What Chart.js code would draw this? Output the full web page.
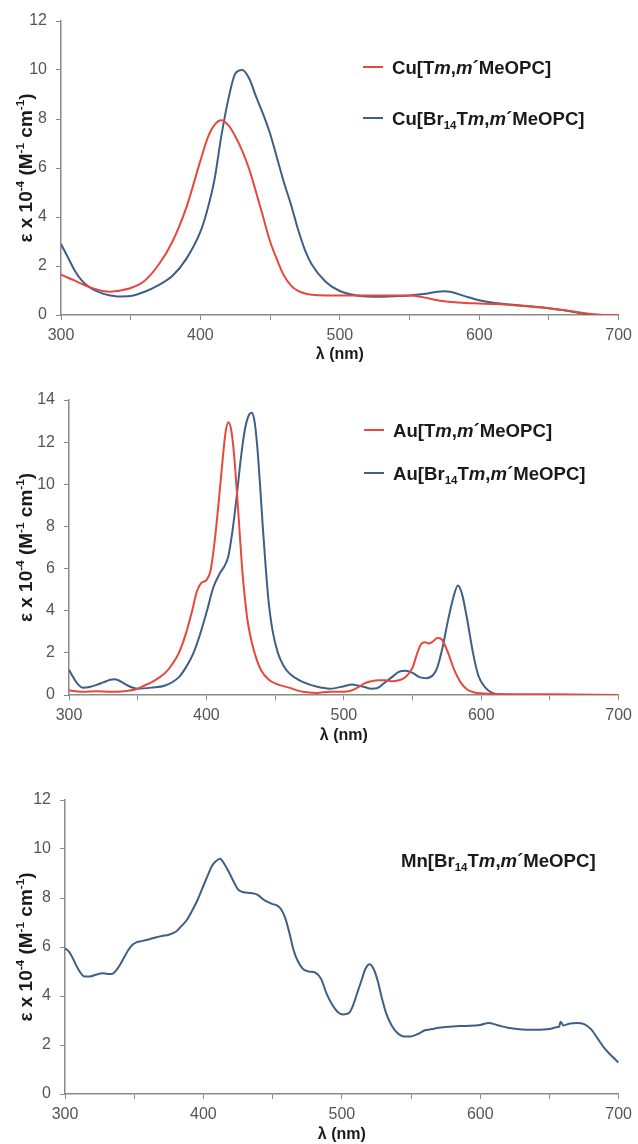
<!DOCTYPE html>
<html>
<head>
<meta charset="utf-8">
<script src="https://cdn.jsdelivr.net/npm/chart.js@4"></script>
<style>
  html, body { margin: 0; padding: 0; background: #fff; }
  #page { position: relative; width: 638px; height: 1144px; }
  .box { position: absolute; left: 0; width: 638px; }
</style>
</head>
<body>
<div id="page">
  <div class="box" style="top:0;height:364px"><canvas id="cuChart"></canvas></div>
  <div class="box" style="top:362px;height:383px"><canvas id="auChart"></canvas></div>
  <div class="box" style="top:745px;height:399px"><canvas id="mnChart"></canvas></div>
</div>
<script>
// ---- data (epsilon x 10^-4) ----
const cuNm = [300,305,310,315,320,330,335,340,350,360,370,380,390,400,405,410,415,420,425,430,435,440,445,450,455,460,465,470,475,480,490,500,510,520,530,540,550,560,570,575,580,590,600,610,620,640,650,660,670,680,690,700];
const cuRed = [1.65,1.52,1.4,1.27,1.15,0.98,0.95,0.98,1.1,1.4,2.05,3.0,4.4,6.3,7.2,7.75,7.95,7.75,7.3,6.7,5.95,5.0,4.0,3.0,2.25,1.6,1.2,0.98,0.88,0.83,0.8,0.8,0.8,0.8,0.8,0.8,0.8,0.72,0.6,0.56,0.53,0.49,0.47,0.45,0.42,0.33,0.28,0.2,0.12,0.04,0,0];
const cuBlue = [2.9,2.35,1.8,1.4,1.15,0.87,0.8,0.76,0.78,0.95,1.22,1.6,2.3,3.4,4.3,5.5,7.3,8.8,9.85,10.0,9.65,8.9,8.2,7.4,6.4,5.4,4.5,3.5,2.65,2.05,1.35,0.98,0.82,0.76,0.75,0.77,0.8,0.86,0.95,0.97,0.94,0.76,0.6,0.5,0.44,0.34,0.28,0.2,0.1,0.02,0,0];

const auRedNm = [300,305,310,320,330,340,350,355,360,365,370,375,380,385,390,393,396,400,403,406,409,412,414,416,418,420,422,424,426,428,430,433,436,440,445,450,460,470,480,490,500,505,510,515,520,525,530,535,540,545,550,553,556,559,562,565,568,571,574,577,580,585,590,595,600,610,620,650,700];
const auRed = [0.22,0.18,0.15,0.18,0.15,0.18,0.3,0.45,0.6,0.8,1.05,1.45,2.0,2.9,4.1,4.9,5.3,5.45,5.9,7.3,9.2,11.3,12.5,12.95,12.6,11.5,9.8,7.9,6.0,4.6,3.5,2.5,1.8,1.15,0.75,0.55,0.35,0.15,0.1,0.15,0.15,0.2,0.35,0.55,0.65,0.7,0.7,0.65,0.7,0.85,1.3,1.9,2.4,2.5,2.45,2.55,2.7,2.65,2.3,1.8,1.25,0.6,0.25,0.12,0.08,0.05,0.04,0.03,0];
const auBlueNm = [300,303,306,310,315,320,325,330,333,336,340,345,350,360,370,380,385,390,395,400,405,410,413,416,419,422,425,428,431,433,435,437,439,441,443,445,448,452,456,460,465,470,480,490,500,506,510,515,520,524,530,535,540,545,550,555,560,565,568,572,576,580,583,586,590,594,598,603,608,615,630,700];
const auBlue = [1.2,0.85,0.55,0.35,0.38,0.48,0.6,0.72,0.75,0.7,0.55,0.38,0.3,0.35,0.45,0.85,1.3,1.9,2.8,3.9,5.1,5.8,6.1,6.6,7.8,9.4,11.2,12.6,13.3,13.4,13.0,11.8,10.0,8.0,6.2,4.6,3.1,2.0,1.4,1.05,0.8,0.62,0.4,0.3,0.42,0.5,0.45,0.38,0.3,0.32,0.6,0.85,1.1,1.15,1.05,0.85,0.8,0.95,1.3,2.3,3.6,4.7,5.2,4.8,3.5,2.0,0.9,0.35,0.1,0.02,0,0];

const mnNm = [300,303,306,309,314,318,323,327,331,334,337,340,343,346,349,352,356,361,366,370,375,380,384,388,392,396,400,403,406,409,412,415,418,422,425,428,431,434,437,440,443,446,450,453,456,459,462,465,468,472,476,481,485,489,493,497,501,505,508,511,514,517,520,523,526,529,532,536,540,545,550,555,560,565,570,580,590,600,606,612,620,630,640,650,655,657,658,660,665,670,675,680,685,690,695,700];
const mnBlue = [5.95,5.8,5.5,5.15,4.8,4.8,4.88,4.93,4.9,4.9,5.05,5.3,5.6,5.9,6.1,6.2,6.25,6.32,6.4,6.45,6.5,6.62,6.85,7.1,7.5,7.95,8.5,8.9,9.3,9.5,9.6,9.4,9.1,8.65,8.35,8.25,8.22,8.2,8.18,8.1,7.95,7.85,7.75,7.7,7.55,7.2,6.6,5.9,5.45,5.1,5.0,4.95,4.7,4.1,3.65,3.35,3.25,3.3,3.6,4.1,4.6,5.1,5.3,5.1,4.6,3.9,3.3,2.8,2.5,2.35,2.35,2.45,2.6,2.65,2.7,2.76,2.78,2.82,2.9,2.82,2.7,2.63,2.62,2.65,2.72,2.75,2.95,2.8,2.88,2.9,2.85,2.65,2.25,1.85,1.55,1.28];

const xTicks = [300, 400, 500, 600, 700];
// labels with light markup: <i>..</i> italic, <sub>..</sub>, <sup>..</sup>
const cuLabels = ['Cu[T<i>m</i>,<i>m</i>´MeOPC]', 'Cu[Br<sub>14</sub>T<i>m</i>,<i>m</i>´MeOPC]'];
const auLabels = ['Au[T<i>m</i>,<i>m</i>´MeOPC]', 'Au[Br<sub>14</sub>T<i>m</i>,<i>m</i>´MeOPC]'];
const mnLabels = ['Mn[Br<sub>14</sub>T<i>m</i>,<i>m</i>´MeOPC]'];
const yTitle = 'ε x 10<sup>-4</sup> (M<sup>-1</sup> cm<sup>-1</sup>)';
const xTitle = 'λ (nm)';

const RED = '#e8483c';
const BLUE = '#3e5f88';
const FAMILY = '"Liberation Sans", Arial, sans-serif';

// split markup into [text, style] parts
function parseRich(str) {
  const parts = [];
  const re = /<(i|sub|sup)>(.*?)<\/\1>/g;
  let last = 0, m;
  while ((m = re.exec(str))) {
    if (m.index > last) parts.push([str.slice(last, m.index), '']);
    parts.push([m[2], m[1]]);
    last = re.lastIndex;
  }
  if (last < str.length) parts.push([str.slice(last), '']);
  return parts;
}

function partFont(style, size) {
  if (style === 'i') return 'bold italic ' + size + 'px ' + FAMILY;
  if (style === 'sub' || style === 'sup') return 'bold ' + (size * 0.62) + 'px ' + FAMILY;
  return 'bold ' + size + 'px ' + FAMILY;
}

function richWidth(ctx, parts, size) {
  let w = 0;
  parts.forEach(([t, s]) => { ctx.font = partFont(s, size); w += ctx.measureText(t).width; });
  return w;
}

// draws text vertically centred on y, starting at x
function drawRich(ctx, str, x, y, size, color) {
  const parts = parseRich(str);
  const base = y + size * 0.36;
  ctx.fillStyle = color;
  ctx.textBaseline = 'alphabetic';
  ctx.textAlign = 'left';
  parts.forEach(([t, s]) => {
    ctx.font = partFont(s, size);
    let by = base;
    if (s === 'sub') by = base + size * 0.22;
    if (s === 'sup') by = base - size * 0.42;
    ctx.fillText(t, x, by);
    x += ctx.measureText(t).width;
  });
}

const richPlugin = {
  id: 'richText',
  afterDraw(chart, args, opts) {
    const ctx = chart.ctx;
    const area = chart.chartArea;
    ctx.save();
    // rotated y axis title
    const parts = parseRich(opts.yTitle);
    const w = richWidth(ctx, parts, opts.yTitleSize);
    ctx.translate(opts.yTitleX, (area.top + area.bottom) / 2);
    ctx.rotate(-Math.PI / 2);
    drawRich(ctx, opts.yTitle, -w / 2, 0, opts.yTitleSize, '#1a1a1a');
    ctx.restore();

    // legend entries
    ctx.save();
    opts.labels.forEach((label, i) => {
      const y = opts.legendY[i];
      if (opts.showLines) {
        ctx.strokeStyle = chart.data.datasets[i].borderColor;
        ctx.lineWidth = 2;
        ctx.beginPath();
        ctx.moveTo(opts.lineX, y);
        ctx.lineTo(opts.lineX + 20, y);
        ctx.stroke();
      }
      drawRich(ctx, label, opts.textX, y, opts.legendSize, '#1a1a1a');
    });
    ctx.restore();
  }
};

function makeChart(id, datasets, yMax, yWidth, padTop, xHeight, rich) {
  const axisColor = '#8a8a8a';
  const tickFont = { family: FAMILY, size: 16 };
  return new Chart(document.getElementById(id), {
    type: 'line',
    data: { datasets: datasets },
    options: {
      responsive: true,
      maintainAspectRatio: false,
      animation: false,
      layout: { padding: { top: padTop, right: 16, left: 0, bottom: 0 } },
      elements: { point: { radius: 0 }, line: { borderWidth: 2, cubicInterpolationMode: 'monotone' } },
      plugins: { legend: { display: false }, tooltip: { enabled: false }, richText: rich },
      scales: {
        x: {
          type: 'linear', min: 300, max: 700,
          afterFit: s => { s.height = xHeight; },
          ticks: {
            stepSize: 50, autoSkip: false, maxRotation: 0, padding: 6,
            color: '#555', font: tickFont,
            callback: v => xTicks.includes(v) ? String(v) : ''
          },
          grid: { drawOnChartArea: false, drawTicks: true, tickLength: 5, color: axisColor },
          border: { color: axisColor, width: 1.5 },
          title: { display: true, text: xTitle, color: '#1a1a1a', padding: 0,
                   font: { family: FAMILY, size: 16, weight: 'bold' } }
        },
        y: {
          min: 0, max: yMax,
          afterFit: s => { s.width = yWidth; },
          ticks: { stepSize: 2, padding: 9, color: '#555', font: tickFont },
          grid: { drawOnChartArea: false, drawTicks: true, tickLength: 5, color: axisColor },
          border: { color: axisColor, width: 1.5 }
        }
      }
    },
    plugins: [richPlugin]
  });
}

function pts(xs, ys) { return xs.map((x, i) => ({ x: x, y: ys[i] })); }

makeChart('cuChart', [
  { label: cuLabels[0], data: pts(cuNm, cuRed), borderColor: RED },
  { label: cuLabels[1], data: pts(cuNm, cuBlue), borderColor: BLUE }
], 12, 61, 21, 49, {
  yTitle: yTitle, yTitleX: 25, yTitleSize: 19,
  labels: cuLabels, showLines: true, lineX: 363, textX: 392, legendY: [67, 118], legendSize: 18.6
});

makeChart('auChart', [
  { label: auLabels[0], data: pts(auRedNm, auRed), borderColor: RED },
  { label: auLabels[1], data: pts(auBlueNm, auBlue), borderColor: BLUE }
], 14, 69, 38, 50, {
  yTitle: yTitle, yTitleX: 25, yTitleSize: 19,
  labels: auLabels, showLines: true, lineX: 364, textX: 393, legendY: [68, 111], legendSize: 18.6
});

makeChart('mnChart', [
  { label: mnLabels[0], data: pts(mnNm, mnBlue), borderColor: BLUE }
], 12, 65, 55, 50, {
  yTitle: yTitle, yTitleX: 25, yTitleSize: 19,
  labels: mnLabels, showLines: false, lineX: 0, textX: 401, legendY: [115], legendSize: 18.6
});
</script>
</body>
</html>
